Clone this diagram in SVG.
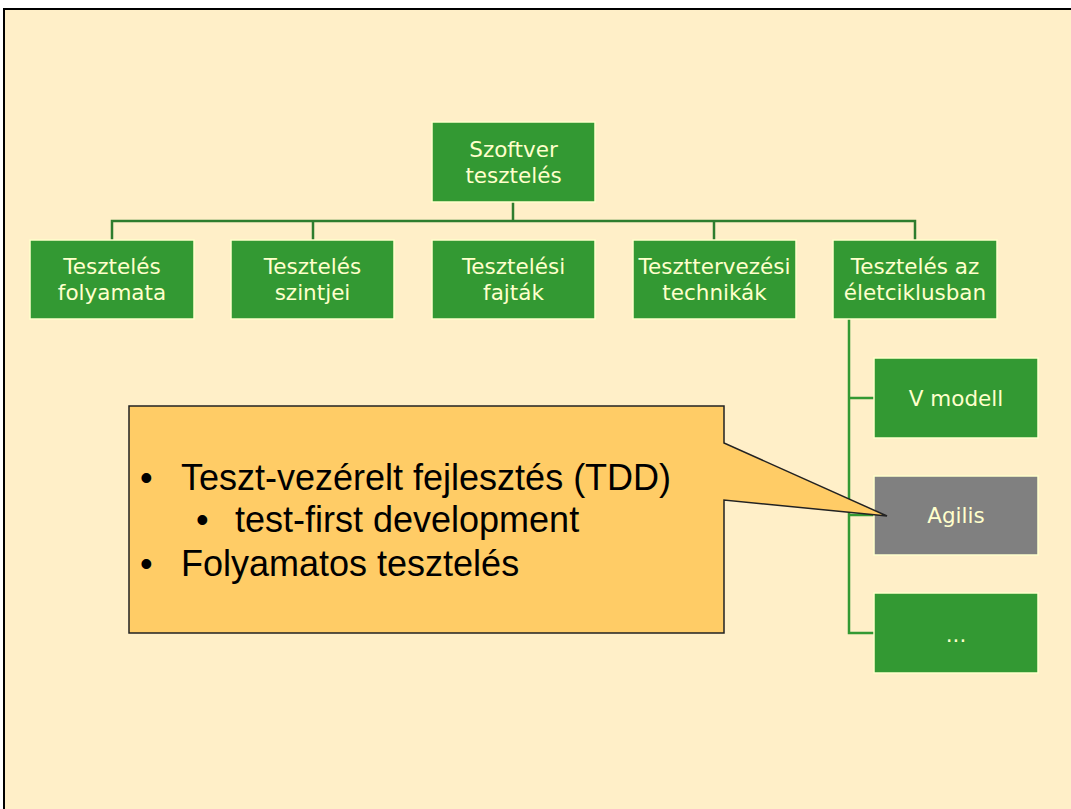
<svg xmlns="http://www.w3.org/2000/svg" width="1071" height="809" viewBox="0 0 1071 809">
<style>
.box{fill:#339933;stroke:#FFFFCC;stroke-width:1.5}
.gray{fill:#808080;stroke:#FFFFCC;stroke-width:1.5}
.lbl{font-family:"DejaVu Sans",Verdana,sans-serif;font-size:21.5px;fill:#FFFFCC;text-anchor:middle}
.conn{fill:none;stroke:#2E7D2E;stroke-width:2.5}
.conn2{fill:none;stroke:#339933;stroke-width:2.5}
.ct{font-family:"Liberation Sans",Arial,sans-serif;font-size:36px;fill:#000}
</style>
<rect x="0" y="0" width="1071" height="809" fill="#FFFFFF"/>
<rect x="4" y="9" width="1080" height="820" fill="#FFEFC8" stroke="#000" stroke-width="2"/>
<g id="connectors">
<path class="conn" d="M513 202V221M112 240V221H915V240M313 221V240M714 221V240"/>
<path class="conn2" d="M849 319V633H874M849 398H874M849 515H874"/>
</g>
<g id="n-root"><rect class="box" x="432" y="122" width="163" height="80"/><text class="lbl" x="513.5" y="157">Szoftver</text><text class="lbl" x="513.5" y="183">tesztelés</text></g>
<g id="n-folyamata"><rect class="box" x="30" y="240" width="164" height="79"/><text class="lbl" x="112" y="274">Tesztelés</text><text class="lbl" x="112" y="300">folyamata</text></g>
<g id="n-szintjei"><rect class="box" x="231" y="240" width="163" height="79"/><text class="lbl" x="312.5" y="274">Tesztelés</text><text class="lbl" x="312.5" y="300">szintjei</text></g>
<g id="n-fajtak"><rect class="box" x="432" y="240" width="163" height="79"/><text class="lbl" x="513.5" y="274">Tesztelési</text><text class="lbl" x="513.5" y="300">fajták</text></g>
<g id="n-technikak"><rect class="box" x="633" y="240" width="163" height="79"/><text class="lbl" x="714.5" y="274">Teszttervezési</text><text class="lbl" x="714.5" y="300">technikák</text></g>
<g id="n-eletciklus"><rect class="box" x="833" y="240" width="164" height="79"/><text class="lbl" x="915" y="274">Tesztelés az</text><text class="lbl" x="915" y="300">életciklusban</text></g>
<g id="n-vmodell"><rect class="box" x="874" y="358" width="164" height="80"/><text class="lbl" x="956" y="406">V modell</text></g>
<g id="n-agilis"><rect class="gray" x="874" y="476" width="164" height="79"/><text class="lbl" x="956" y="523">Agilis</text></g>
<g id="n-more"><rect class="box" x="874" y="593" width="164" height="80"/><text class="lbl" x="956" y="642">...</text></g>
<g id="callout">
<path d="M129 406H724V443L887 516L724 500V633H129Z" fill="#FFCC66" stroke="#222" stroke-width="1.5" stroke-linejoin="miter"/>
<text class="ct" x="140" y="490">•</text><text class="ct" x="181" y="490">Teszt-vezérelt fejlesztés (TDD)</text>
<text class="ct" x="196" y="532">•</text><text class="ct" x="235" y="532">test-first development</text>
<text class="ct" x="140" y="576">•</text><text class="ct" x="181" y="576">Folyamatos tesztelés</text>
</g>
</svg>
